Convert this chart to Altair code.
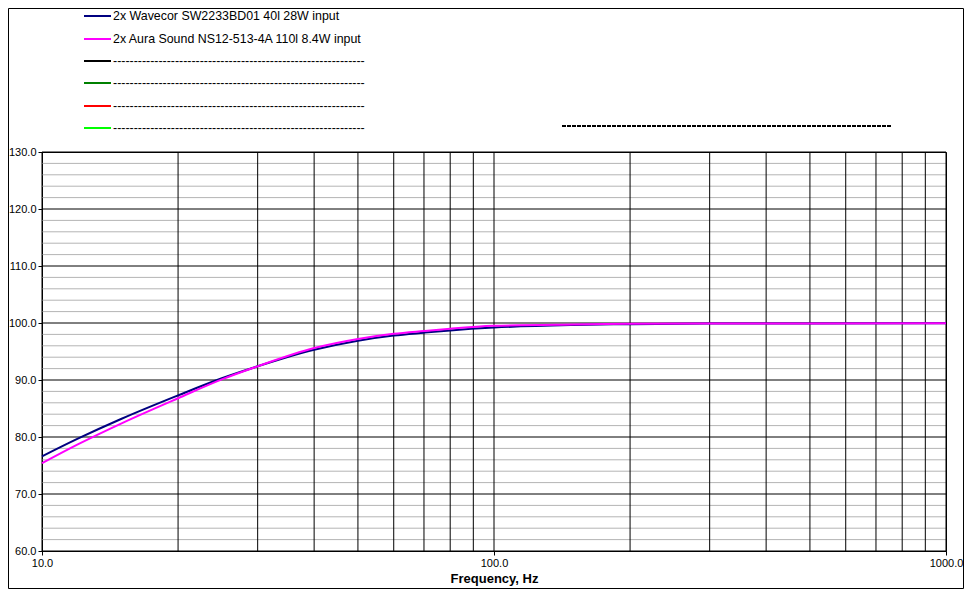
import altair as alt
import pandas as pd

# ---- data ----
freq = [10, 12, 15, 20, 25, 30, 40, 50, 60, 70, 80, 100, 150, 200, 300, 500, 1000]
wavecor = [76.6, 79.7, 83.2, 87.3, 90.3, 92.4, 95.3, 96.9, 97.8, 98.3, 98.7, 99.2, 99.65, 99.8, 99.9, 99.92, 99.95]
aura = [75.4, 78.7, 82.4, 86.8, 90.1, 92.4, 95.6, 97.2, 98.1, 98.6, 99.0, 99.5, 99.75, 99.85, 99.9, 99.92, 99.95]

x_ticks = [10, 100, 1000]
y_ticks = [60, 70, 80, 90, 100, 110, 120, 130]
x_grid = [10, 20, 30, 40, 50, 60, 70, 80, 90, 100, 200, 300, 400, 500, 600, 700, 800, 900, 1000]
y_minor = [v for v in range(62, 130, 2) if v % 10 != 0]

dash = "-" * 61
legend_labels = ["2x Wavecor SW2233BD01 40l 28W input",
                 "2x Aura Sound NS12-513-4A 110l 8.4W input",
                 dash, dash, dash, dash]
legend_colors = ["#000080", "#FF00FF", "#000000", "#008000", "#FF0000", "#00FF00"]

FONT = "Liberation Sans"

xs = alt.Scale(type="log", domain=[10, 1000], nice=False)
ys = alt.Scale(domain=[60, 130], nice=False, zero=False)
xax = alt.Axis(values=x_ticks, format=".1f", grid=False, title="Frequency, Hz",
               titleFontWeight="bold", titleFontSize=13, titlePadding=4,
               labelFlush=False)
yax = alt.Axis(values=y_ticks, format=".1f", grid=False, title=None)


def X(f):
    return alt.X(f"{f}:Q", scale=xs, axis=xax)


def Y(f):
    return alt.Y(f"{f}:Q", scale=ys, axis=yax)


curves = pd.DataFrame({
    "f": freq * 2,
    "L": wavecor + aura,
    "s": ["wavecor"] * len(freq) + ["aura"] * len(freq),
})

minor_df = pd.DataFrame({"L": y_minor})
major_df = pd.DataFrame({"L": y_ticks})
vgrid_df = pd.DataFrame({"f": x_grid})

layers = []
layers.append(alt.Chart(minor_df).mark_rule(color="#b4b4b4", strokeWidth=1).encode(y=Y("L")))
layers.append(alt.Chart(vgrid_df).mark_rule(color="#000000", strokeWidth=1).encode(x=X("f")))
layers.append(alt.Chart(major_df).mark_rule(color="#000000", strokeWidth=1).encode(y=Y("L")))

for name, col in [("wavecor", "#000080"), ("aura", "#FF00FF")]:
    layers.append(
        alt.Chart(curves[curves["s"] == name]).mark_line(
            color=col, strokeWidth=2, interpolate="monotone"
        ).encode(x=X("f"), y=Y("L"), order="f:Q")
    )

# legend (manual, positioned above the plot)
row_y = [-136, -113, -91, -69, -46, -24]
for lab, col, yy in zip(legend_labels, legend_colors, row_y):
    df = pd.DataFrame({"label": [lab]})
    layers.append(
        alt.Chart(df).mark_rule(color=col, strokeWidth=2).encode(
            x=alt.value(42), x2=alt.value(69), y=alt.value(yy)
        )
    )
    layers.append(
        alt.Chart(df).mark_text(align="left", baseline="middle", font=FONT,
                                fontSize=12.4, color="#000000").encode(
            x=alt.value(71), y=alt.value(yy), text="label:N"
        )
    )

# thick dashed separator on the right
layers.append(
    alt.Chart(pd.DataFrame({"k": [0]})).mark_rule(
        color="#000000", strokeWidth=2, strokeDash=[4, 1]
    ).encode(x=alt.value(520), x2=alt.value(850), y=alt.value(-26))
)

# outer frame
layers.append(
    alt.Chart(pd.DataFrame({"k": [0]})).mark_rect(
        fillOpacity=0, stroke="#000000", strokeWidth=1
    ).encode(
        x=alt.value(-33.5), x2=alt.value(921.5), y=alt.value(-143.5), y2=alt.value(436.5)
    )
)

chart = alt.layer(*layers).properties(
    width=904, height=399,
    autosize=alt.AutoSizeParams(type="none"),
    padding={"left": 34, "top": 144, "right": 18, "bottom": 38},
    background="white",
).configure_view(
    stroke="#000000", strokeWidth=1
).configure_axis(
    domainColor="#000000", tickColor="#000000", tickSize=4,
    labelColor="#000000", titleColor="#000000",
    labelFont=FONT, titleFont=FONT, labelFontSize=11,
    labelPadding=2,
)

chart.save("out.html", embed_options={"renderer": "svg", "actions": False})
